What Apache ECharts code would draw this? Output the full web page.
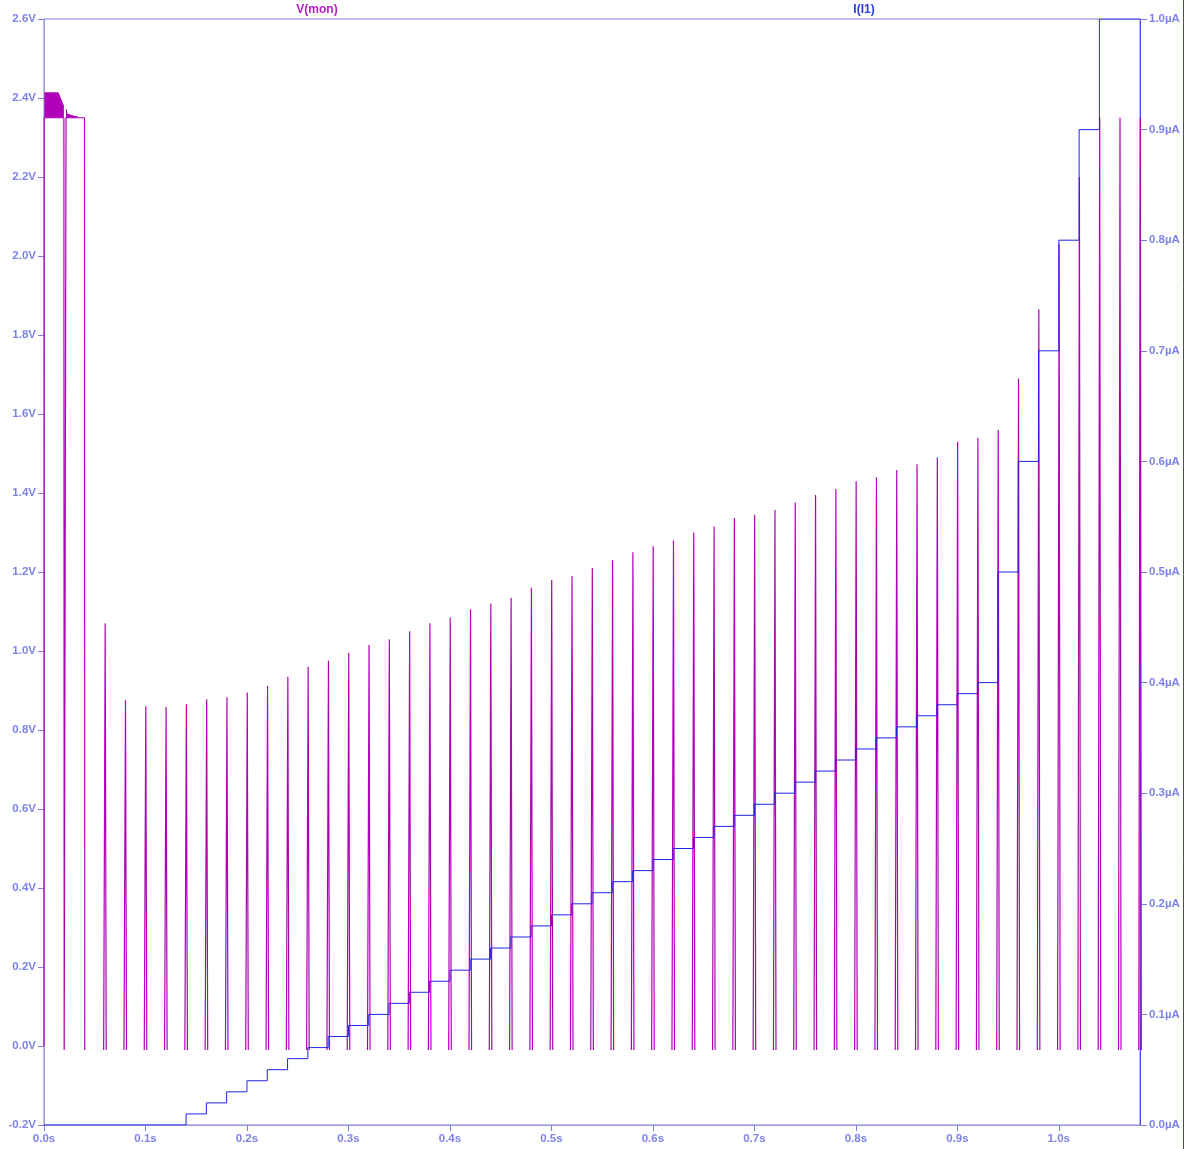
<!DOCTYPE html>
<html>
<head>
<meta charset="utf-8">
<script src="https://cdn.jsdelivr.net/npm/echarts@6/dist/echarts.min.js"></script>
<style>
  html, body { margin: 0; padding: 0; background: #ffffff; }
  #chart { width: 1192px; height: 1149px; }
</style>
</head>
<body>
<div id="chart"></div>
<script>
// ---- V(mon): start-up plateau (0 .. 0.04 s) ----
const startTimes = [0, 0.0002, 0.0196, 0.0199, 0.0214, 0.0217, 0.0399, 0.0402];
const startVolts = [0, 2.35, 2.35, -0.01, -0.01, 2.35, 2.35, -0.01];

// upper envelope of the ringing on top of the plateau (filled down to 2.35 V)
const ringTimesA = [0.0004, 0.014, 0.0196];
const ringTopA = [2.413, 2.413, 2.378];
const ringTimesB = [0.0217, 0.0226, 0.028, 0.034];
const ringTopB = [2.372, 2.36, 2.355, 2.351];
const ringBase = 2.35;

// ---- V(mon): relaxation spikes, one every 20 ms ----
const toothTimes = [0.06, 0.08, 0.10, 0.12, 0.14, 0.16, 0.18, 0.20, 0.22, 0.24,
                    0.26, 0.28, 0.30, 0.32, 0.34, 0.36, 0.38, 0.40, 0.42, 0.44,
                    0.46, 0.48, 0.50, 0.52, 0.54, 0.56, 0.58, 0.60, 0.62, 0.64,
                    0.66, 0.68, 0.70, 0.72, 0.74, 0.76, 0.78, 0.80, 0.82, 0.84,
                    0.86, 0.88, 0.90, 0.92, 0.94, 0.96, 0.98, 1.00, 1.02, 1.04,
                    1.06, 1.08];
const toothPeaks = [1.07, 0.875, 0.86, 0.858, 0.865, 0.878, 0.883, 0.895, 0.912, 0.935,
                    0.96, 0.975, 0.995, 1.015, 1.03, 1.05, 1.07, 1.085, 1.105, 1.12,
                    1.135, 1.16, 1.18, 1.19, 1.21, 1.23, 1.25, 1.265, 1.28, 1.30,
                    1.315, 1.337, 1.345, 1.357, 1.375, 1.395, 1.41, 1.43, 1.44, 1.458,
                    1.473, 1.49, 1.53, 1.54, 1.56, 1.69, 1.865, 2.03, 2.2, 2.35,
                    2.35, 2.35];
const toothFloor = -0.01;

// ---- I(I1): staircase current source (µA), value held until the next time ----
const stepTimes = [0, 0.14, 0.16, 0.18, 0.20, 0.22, 0.24, 0.26, 0.28, 0.30, 0.32,
                   0.34, 0.36, 0.38, 0.40, 0.42, 0.44, 0.46, 0.48, 0.50, 0.52,
                   0.54, 0.56, 0.58, 0.60, 0.62, 0.64, 0.66, 0.68, 0.70, 0.72,
                   0.74, 0.76, 0.78, 0.80, 0.82, 0.84, 0.86, 0.88, 0.90, 0.92,
                   0.94, 0.96, 0.98, 1.00, 1.02, 1.04, 1.08];
const stepCurrents = [0, 0.01, 0.02, 0.03, 0.04, 0.05, 0.06, 0.07, 0.08, 0.09, 0.10,
                      0.11, 0.12, 0.13, 0.14, 0.15, 0.16, 0.17, 0.18, 0.19, 0.20,
                      0.21, 0.22, 0.23, 0.24, 0.25, 0.26, 0.27, 0.28, 0.29, 0.30,
                      0.31, 0.32, 0.33, 0.34, 0.35, 0.36, 0.37, 0.38, 0.39, 0.40,
                      0.5, 0.6, 0.7, 0.8, 0.9, 1.0, 1.0];

// ---- axis ticks ----
const timeTicks = [0, 0.1, 0.2, 0.3, 0.4, 0.5, 0.6, 0.7, 0.8, 0.9, 1.0];
const voltRange = [-0.2, 2.6, 0.2];
const currentRange = [0, 1.0, 0.1];
const timeRange = [0, 1.08];

// ---- build series data ----
const GAP = '-';
const vData = [];
startTimes.forEach((t, i) => vData.push([t, startVolts[i]]));
vData.push([0.041, GAP]);
toothTimes.forEach((t, i) => {
  vData.push([t - 0.0012, toothFloor]);
  vData.push([t + 0.0003, toothPeaks[i]]);
  vData.push([t + 0.0013, toothFloor]);
  vData.push([t + 0.0015, GAP]);
});

const ringData = [];
ringTimesA.forEach((t, i) => ringData.push([t, ringTopA[i]]));
ringData.push([0.0205, GAP]);
ringTimesB.forEach((t, i) => ringData.push([t, ringTopB[i]]));

const iData = stepTimes.map((t, i) => [t, stepCurrents[i]]);

const LABEL_FONT = { fontFamily: 'Liberation Sans, Arial, sans-serif', fontSize: 11.5, fontWeight: 'bold', color: '#7c83e8' };
const AXIS_GREY = '#9d9dd8';
const TICK_COL = '#7c7ce2';
const V_COL = '#b000b8';
const I_COL = '#2323e4';

const chart = echarts.init(document.getElementById('chart'), null, { renderer: 'canvas' });
chart.setOption({
  animation: false,
  backgroundColor: '#ffffff',
  grid: { left: 44, right: 52, top: 19, bottom: 24, show: true, borderColor: '#7a7ae4', borderWidth: 1, backgroundColor: 'transparent' },
  xAxis: {
    type: 'value', min: timeRange[0], max: timeRange[1], interval: 0.1,
    axisLine: { show: true, onZero: false, lineStyle: { color: AXIS_GREY, width: 1 } },
    axisTick: { show: true, length: 6, customValues: timeTicks, lineStyle: { color: TICK_COL } },
    axisLabel: Object.assign({ customValues: timeTicks, margin: 8, formatter: v => v.toFixed(1) + 's' }, LABEL_FONT),
    splitLine: { show: false }
  },
  yAxis: [
    {
      type: 'value', position: 'left', min: voltRange[0], max: voltRange[1], interval: voltRange[2],
      axisLine: { show: true, onZero: false, lineStyle: { color: AXIS_GREY, width: 1 } },
      axisTick: { show: true, length: 6, lineStyle: { color: TICK_COL } },
      axisLabel: Object.assign({ margin: 8, formatter: v => v.toFixed(1) + 'V' }, LABEL_FONT),
      splitLine: { show: false }
    },
    {
      type: 'value', position: 'right', min: currentRange[0], max: currentRange[1], interval: currentRange[2],
      axisLine: { show: true, onZero: false, lineStyle: { color: '#4848f0', width: 1 } },
      axisTick: { show: true, length: 7, lineStyle: { color: TICK_COL } },
      axisLabel: Object.assign({ margin: 9, formatter: v => v.toFixed(1) + 'µA' }, LABEL_FONT),
      splitLine: { show: false }
    }
  ],
  graphic: [
    { type: 'text', x: 317, y: 10, style: { text: 'V(mon)', fill: '#b21ec2', font: 'bold 12px "Liberation Sans", Arial, sans-serif', align: 'center', verticalAlign: 'middle' } },
    { type: 'text', x: 864, y: 10, style: { text: 'I(I1)', fill: '#2a3ae2', font: 'bold 12px "Liberation Sans", Arial, sans-serif', align: 'center', verticalAlign: 'middle' } },
    { type: 'line', shape: { x1: 1183.5, y1: 0, x2: 1183.5, y2: 1149 }, style: { stroke: '#3a3ae6', lineWidth: 1 } }
  ],
  series: [
    {
      name: 'V(mon) ringing', type: 'line', yAxisIndex: 0, data: ringData,
      showSymbol: false, connectNulls: false,
      lineStyle: { color: V_COL, width: 1 },
      areaStyle: { color: V_COL, opacity: 1, origin: ringBase }
    },
    {
      name: 'V(mon)', type: 'line', yAxisIndex: 0, data: vData,
      showSymbol: false, connectNulls: false,
      lineStyle: { color: V_COL, width: 1.2 }
    },
    {
      name: 'I(I1)', type: 'line', yAxisIndex: 1, data: iData, step: 'end',
      showSymbol: false,
      lineStyle: { color: I_COL, width: 1 }
    }
  ]
});
</script>
</body>
</html>
